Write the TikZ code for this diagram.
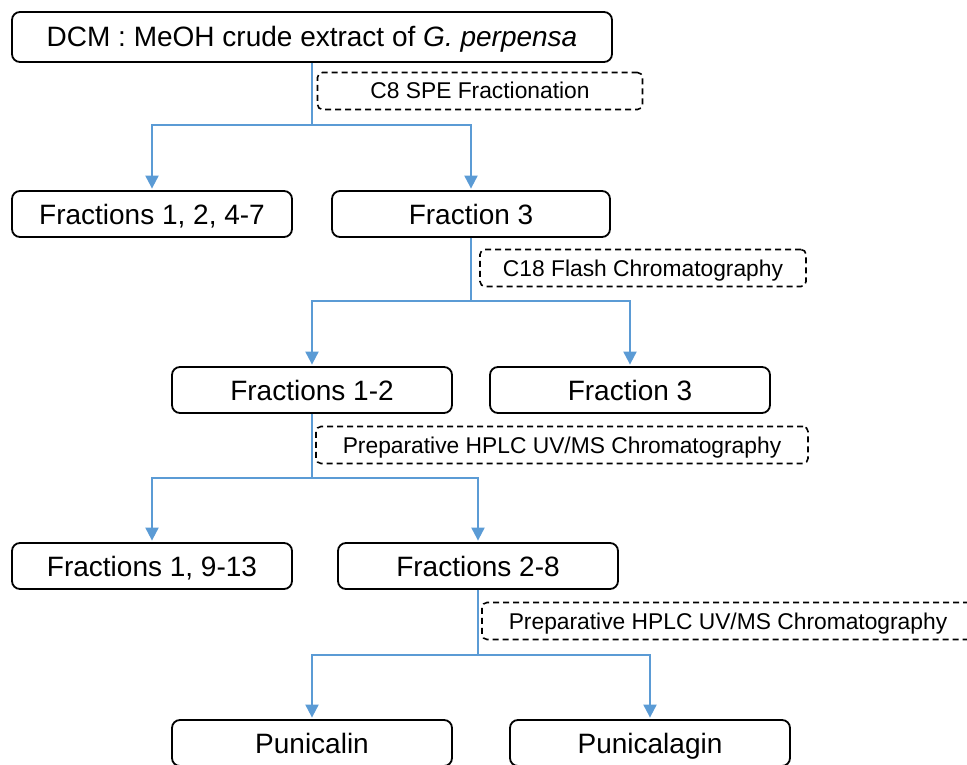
\documentclass[tikz,border=0pt]{standalone}
\usepackage{fontspec}
\setmainfont{Liberation Sans}
\usetikzlibrary{arrows.meta}
\definecolor{flowblue}{RGB}{91,155,213}

\begin{document}
\begin{tikzpicture}[x=1pt, y=-1pt,
        box/.style = {draw, line width=1.8pt, rounded corners=8pt, minimum width=280pt, minimum height=46pt, text height=20pt, text depth=0pt, font=\fontsize{28}{32}\selectfont},
        note/.style = {draw, line width=1.6pt, dash pattern=on 6pt off 4pt, rounded corners=5pt, minimum height=37pt, text height=16pt, text depth=0pt, font=\fontsize{22.8}{26}\selectfont},
        flow/.style = {draw=flowblue, line width=2pt},
        tip/.style = {-{Triangle[width=13pt,length=13pt]}, shorten >=1.5pt} ]
        \clip (0,0) rectangle (967,765);

        \node at (312, 37) [box, minimum width=600pt, minimum height=50pt] (crude) {DCM : MeOH crude extract of \textit{G. perpensa}};
        \node at (480, 91) [note, minimum width=325pt] (c8) {C8 SPE Fractionation};

        \node at (152, 214) [box] (fa) {Fractions 1, 2, 4-7};
        \node at (471, 214) [box, minimum width=278pt] (fb) {Fraction 3};
        \node at (643, 268) [note, minimum width=326pt] (c18) {C18 Flash Chromatography};

        \node at (312, 390) [box] (fc) {Fractions 1-2};
        \node at (630, 390) [box] (fd) {Fraction 3};
        \node at (562, 445) [note, minimum width=492pt] (hplca) {Preparative HPLC UV/MS Chromatography};

        \node at (152, 566) [box] (fe) {Fractions 1, 9-13};
        \node at (478, 566) [box] (ff) {Fractions 2-8};
        \node at (728, 621) [note, minimum width=492pt] (hplcb) {Preparative HPLC UV/MS Chromatography};

        \node at (312, 743) [box] (punicalin) {Punicalin};
        \node at (650, 743) [box] (punicalagin) {Punicalagin};

        \coordinate (s1) at (312, 125);
        \coordinate (s2) at (471, 301);
        \coordinate (s3) at (312, 478);
        \coordinate (s4) at (478, 655);

        \path[flow]
        (crude.south) -- (s1)
        (fb.south) -- (s2)
        (fc.south) -- (s3)
        (ff.south) -- (s4);

        \draw[flow, tip] (s1) -| (fa.north);
        \draw[flow, tip] (s1) -| (fb.north);
        \draw[flow, tip] (s2) -| (fc.north);
        \draw[flow, tip] (s2) -| (fd.north);
        \draw[flow, tip] (s3) -| (fe.north);
        \draw[flow, tip] (s3) -| (ff.north);
        \draw[flow, tip] (s4) -| (punicalin.north);
        \draw[flow, tip] (s4) -| (punicalagin.north);
    \end{tikzpicture}
\end{document}
